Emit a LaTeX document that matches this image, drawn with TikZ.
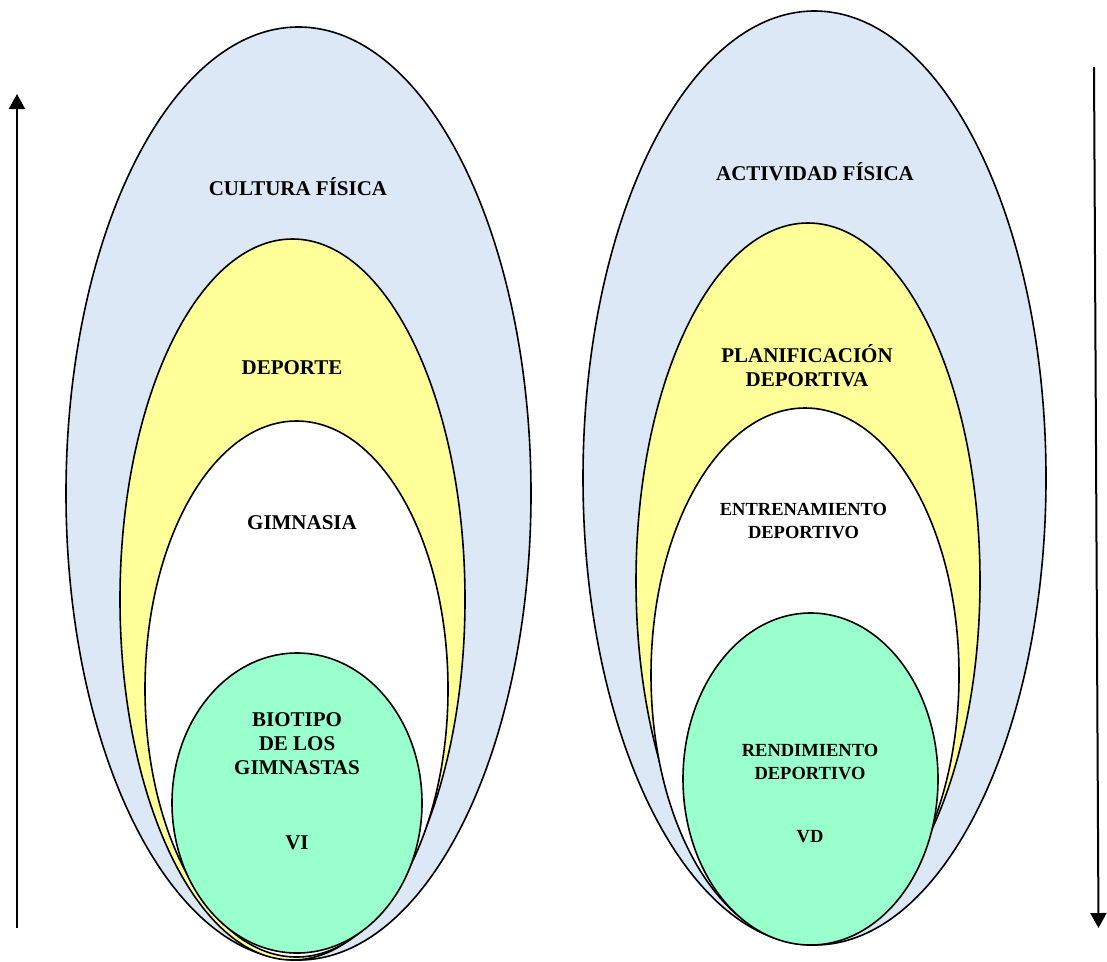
\documentclass[tikz,border=0pt]{standalone}
\usepackage{fontspec}
\setmainfont{Liberation Serif}
\usetikzlibrary{arrows.meta}
\definecolor{culturablue}{HTML}{DCE8F5}
\definecolor{deporteyellow}{HTML}{FFFF99}
\definecolor{biogreen}{HTML}{99FFCC}
\tikzset{
  ring/.style={draw=black, line width=1.6pt},
  lbl/.style={align=center, font=\bfseries\fontsize{21}{24}\selectfont, inner sep=0pt},
  lblsmall/.style={align=center, font=\bfseries\fontsize{18.5}{23}\selectfont, inner sep=0pt},
  axis/.style={line width=2pt, -{Triangle[width=16pt,length=15pt]}}
}
\begin{document}
\begin{tikzpicture}[x=1pt, y=-1pt]
\useasboundingbox (0,0) rectangle (1107,961);

% left set: nested ellipses
\filldraw[ring, fill=culturablue] (298.5,493.5) ellipse [x radius=232.5, y radius=466.5];
\filldraw[ring, fill=deporteyellow] (292.5,599.5) ellipse [x radius=172.5, y radius=360.5];
\filldraw[ring, fill=white] (296.5,689) ellipse [x radius=151.5, y radius=268];
\filldraw[ring, fill=biogreen] (297,803) ellipse [x radius=125, y radius=150];

% right set: nested ellipses
\filldraw[ring, fill=culturablue] (814.5,478) ellipse [x radius=231.5, y radius=467];
\filldraw[ring, fill=deporteyellow] (808,581) ellipse [x radius=172, y radius=358];
\filldraw[ring, fill=white] (805,675) ellipse [x radius=154, y radius=267];
\filldraw[ring, fill=biogreen] (810.5,779) ellipse [x radius=127.5, y radius=166];

% labels, left
\node[lbl] (cultura) at (298,187) {CULTURA FÍSICA};
\node[lbl] (deporte) at (292,368) {DEPORTE};
\node[lbl] (gimnasia) at (302,523) {GIMNASIA};
\node[lbl] (biotipo) at (297,744) {BIOTIPO\\DE LOS\\GIMNASTAS};
\node[lbl] (vi) at (297,843) {VI};

% labels, right
\node[lbl] (actividad) at (815,172) {ACTIVIDAD FÍSICA};
\node[lbl] (planif) at (807,366) {PLANIFICACIÓN\\DEPORTIVA};
\node[lblsmall] (entren) at (803.5,521) {ENTRENAMIENTO\\DEPORTIVO};
\node[lblsmall] (rend) at (810,762) {RENDIMIENTO\\DEPORTIVO};
\node[lblsmall] (vd) at (810,837) {VD};

% direction arrows
\coordinate (upfrom) at (17,928);
\coordinate (upto) at (17,94);
\coordinate (downfrom) at (1094,67);
\coordinate (downto) at (1098.5,928);
\draw[axis] (upfrom) -- (upto);
\draw[axis] (downfrom) -- (downto);
\end{tikzpicture}
\end{document}
